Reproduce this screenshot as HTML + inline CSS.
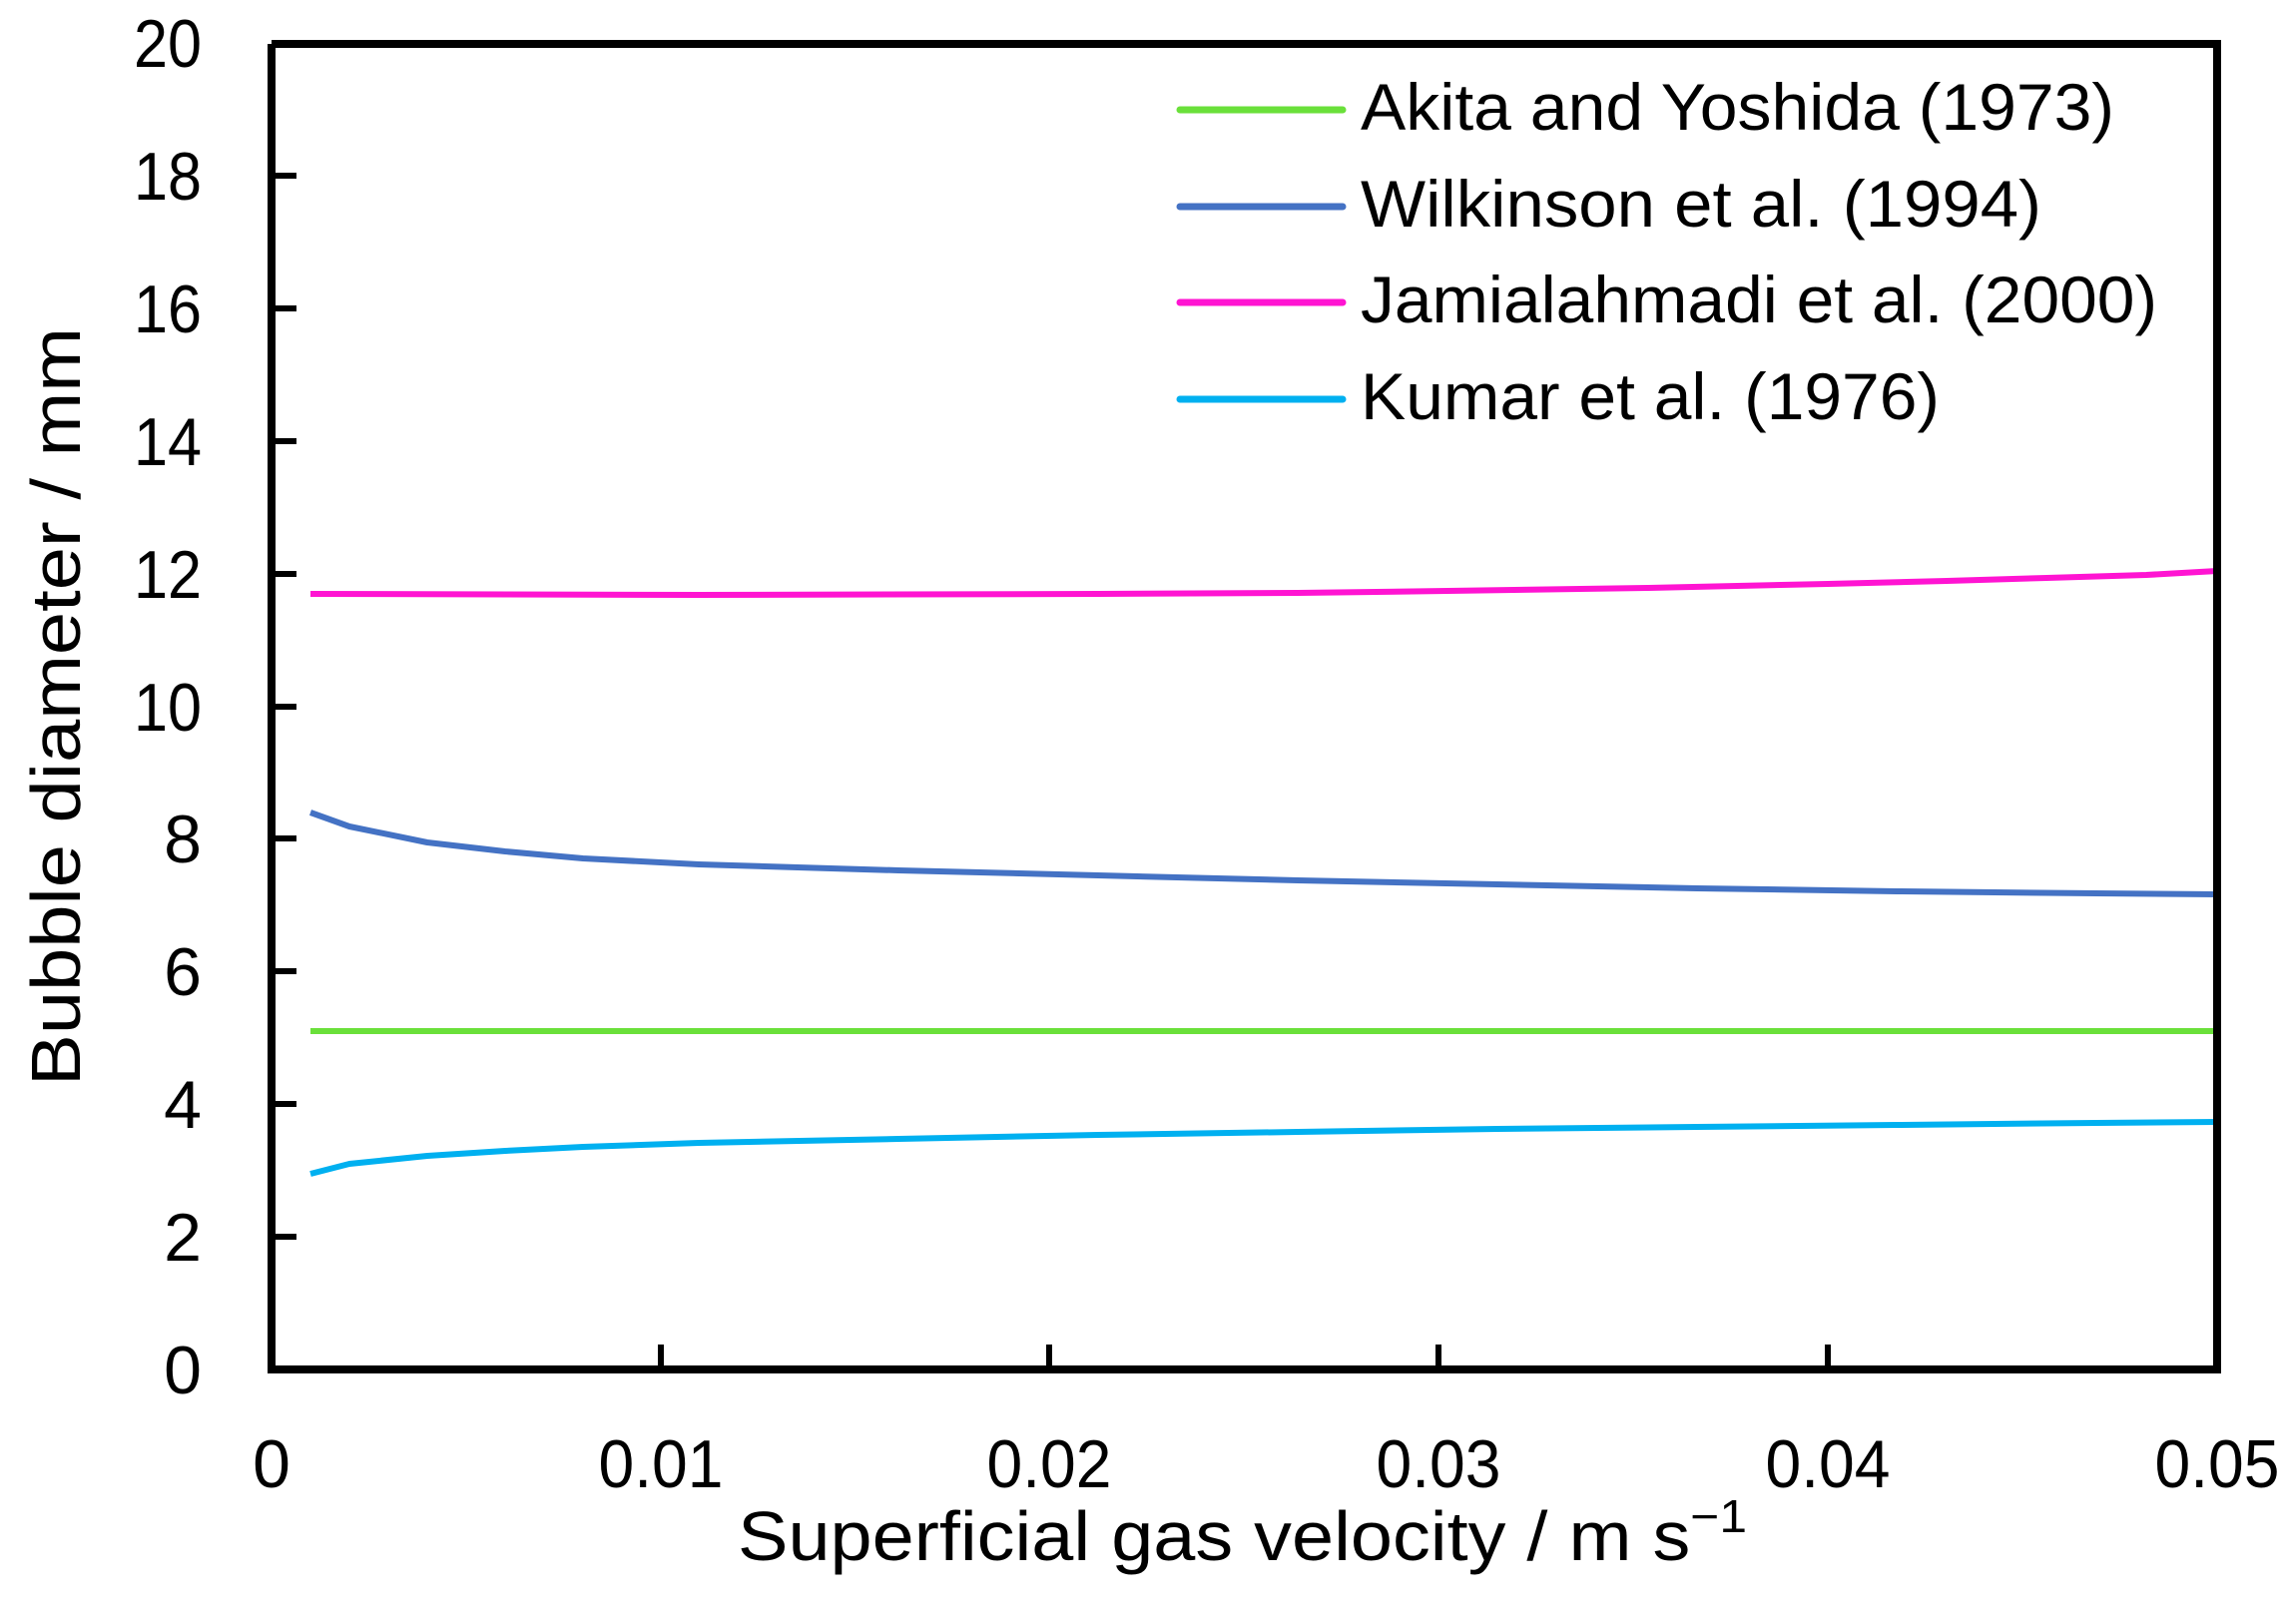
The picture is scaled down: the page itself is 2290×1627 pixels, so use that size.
<!DOCTYPE html>
<html><head><meta charset="utf-8"><style>html,body{margin:0;padding:0;background:#fff}svg{display:block}</style></head>
<body>
<svg width="2290" height="1627" viewBox="0 0 2290 1627" xmlns="http://www.w3.org/2000/svg" font-family="Liberation Sans, sans-serif">
<rect width="2290" height="1627" fill="#fff"/>
<g fill="none" stroke-width="6" stroke-linejoin="round">
<polyline stroke="#ff14d2" points="311,595 700,596 1100,595 1300,594 1450,592 1650,589 1831,585 1950,582 2050,579 2150,576 2221,572"/>
<polyline stroke="#4472c4" points="311,814 350,828 428,844 506,853 584,860 700,866 900,872 1100,877 1300,882 1500,886 1700,890 1900,893 2100,895 2221,896"/>
<polyline stroke="#6ae03a" points="311,1033 2221,1033"/>
<polyline stroke="#00b0f0" points="311,1176 350,1166 428,1158 506,1153 584,1149 700,1145 900,1141 1100,1137 1300,1134 1500,1131 1700,1129 1900,1127 2100,1125 2221,1124"/>
</g>
<g stroke="#000" stroke-width="8" fill="none">
<polyline points="272,44 272,1372 2221,1372 2221,44 272,44"/>
</g>
<g stroke="#000" stroke-width="6">
<line x1="272" y1="176" x2="297" y2="176"/>
<line x1="272" y1="309" x2="297" y2="309"/>
<line x1="272" y1="442" x2="297" y2="442"/>
<line x1="272" y1="575" x2="297" y2="575"/>
<line x1="272" y1="708" x2="297" y2="708"/>
<line x1="272" y1="840" x2="297" y2="840"/>
<line x1="272" y1="973" x2="297" y2="973"/>
<line x1="272" y1="1106" x2="297" y2="1106"/>
<line x1="272" y1="1239" x2="297" y2="1239"/>
<line x1="662" y1="1372" x2="662" y2="1347"/>
<line x1="1051" y1="1372" x2="1051" y2="1347"/>
<line x1="1441" y1="1372" x2="1441" y2="1347"/>
<line x1="1831" y1="1372" x2="1831" y2="1347"/>
</g>
<g font-size="68" text-anchor="end" fill="#000">
<text x="202" y="67" textLength="68" lengthAdjust="spacingAndGlyphs">20</text>
<text x="202" y="200" textLength="68" lengthAdjust="spacingAndGlyphs">18</text>
<text x="202" y="333" textLength="68" lengthAdjust="spacingAndGlyphs">16</text>
<text x="202" y="466" textLength="68" lengthAdjust="spacingAndGlyphs">14</text>
<text x="202" y="599" textLength="68" lengthAdjust="spacingAndGlyphs">12</text>
<text x="202" y="732" textLength="68" lengthAdjust="spacingAndGlyphs">10</text>
<text x="202" y="864">8</text>
<text x="202" y="997">6</text>
<text x="202" y="1130">4</text>
<text x="202" y="1263">2</text>
<text x="202" y="1396">0</text>
</g>
<g font-size="68" text-anchor="middle" fill="#000">
<text x="272" y="1490">0</text>
<text x="662" y="1490" textLength="125" lengthAdjust="spacingAndGlyphs">0.01</text>
<text x="1051" y="1490" textLength="125" lengthAdjust="spacingAndGlyphs">0.02</text>
<text x="1441" y="1490" textLength="125" lengthAdjust="spacingAndGlyphs">0.03</text>
<text x="1831" y="1490" textLength="125" lengthAdjust="spacingAndGlyphs">0.04</text>
<text x="2221" y="1490" textLength="125" lengthAdjust="spacingAndGlyphs">0.05</text>
</g>
<text x="739" y="1563" font-size="70" fill="#000" textLength="1011" lengthAdjust="spacingAndGlyphs">Superficial gas velocity / m s<tspan font-size="46" dy="-28">−1</tspan></text>
<text transform="translate(80,708) rotate(-90)" font-size="70" text-anchor="middle" fill="#000" textLength="760" lengthAdjust="spacingAndGlyphs">Bubble diameter / mm</text>
<g stroke-width="7" stroke-linecap="round">
<line x1="1182" y1="110" x2="1345" y2="110" stroke="#6ae03a"/>
<line x1="1182" y1="207" x2="1345" y2="207" stroke="#4472c4"/>
<line x1="1182" y1="303" x2="1345" y2="303" stroke="#ff14d2"/>
<line x1="1182" y1="400" x2="1345" y2="400" stroke="#00b0f0"/>
</g>
<g font-size="66" fill="#000">
<text x="1363" y="130" textLength="755" lengthAdjust="spacingAndGlyphs">Akita and Yoshida (1973)</text>
<text x="1363" y="227" textLength="682" lengthAdjust="spacingAndGlyphs">Wilkinson et al. (1994)</text>
<text x="1363" y="323" textLength="798" lengthAdjust="spacingAndGlyphs">Jamialahmadi et al. (2000)</text>
<text x="1363" y="420" textLength="580" lengthAdjust="spacingAndGlyphs">Kumar et al. (1976)</text>
</g>
</svg>
</body></html>
